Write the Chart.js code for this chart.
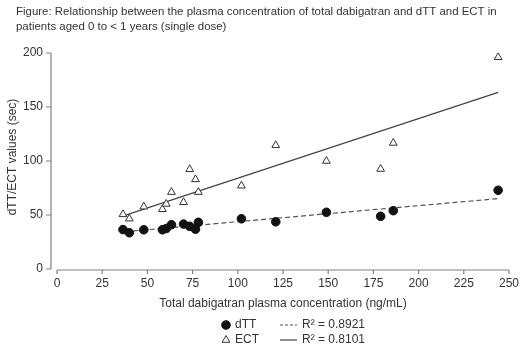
<!DOCTYPE html>
<html>
<head>
<meta charset="utf-8">
<script src="https://cdn.jsdelivr.net/npm/chart.js@4.4.1/dist/chart.umd.min.js"></script>
<style>
body { margin: 0; background: #fff; }
#wrap { width: 520px; height: 351px; }
</style>
</head>
<body>
<div id="wrap"><canvas id="scatter-chart" width="520" height="351"></canvas></div>
<script>
var titleLines = ['Figure: Relationship between the plasma concentration of total dabigatran and dTT and ECT in', 'patients aged 0 to < 1 years (single dose)'];
var concentration = [36.5, 40, 48, 58.3, 60.4, 63.3, 70, 73.4, 76.6, 78.2, 102, 121, 149, 179, 186, 244];
var dttValues = [36.5, 33.6, 36.3, 36.3, 37.5, 41, 41.6, 39.5, 36.9, 43.2, 46.5, 43.7, 52.5, 48.8, 54, 72.9];
var ectValues = [50.6, 46.6, 57.7, 55.3, 60.2, 71.2, 61.8, 92.3, 83, 71.2, 77.1, 114.5, 100, 92.6, 116.7, 196];
var fitConc = [38, 244];
var dttFit = [34.6, 65.2];
var ectFit = [49.9, 163.6];
var xTicks = [0, 25, 50, 75, 100, 125, 150, 175, 200, 225, 250];
var yTicks = [0, 50, 100, 150, 200];
var xTitle = 'Total dabigatran plasma concentration (ng/mL)';
var yTitle = 'dTT/ECT values (sec)';
var legendNames = ['dTT', 'ECT'];
var legendFits = ['R\u00b2 = 0.8921', 'R\u00b2 = 0.8101'];

var fontFamily = '"Liberation Sans", Arial, sans-serif';
var textColor = '#333';
var axisColor = '#808080';

function toPoints(xs, ys) {
    return xs.map((x, i) => ({ x: x, y: ys[i] }))
}

const prismAxes = {
    id: 'prismAxes',
    afterDraw(chart) {
        const ctx = chart.ctx;
        const xs = chart.scales.x, ys = chart.scales.y;
        const area = chart.chartArea;
        ctx.save();

        // title is squeezed to the width it has in the figure
        ctx.font = '12px ' + fontFamily;
        var titleSize = 12 * 481 / ctx.measureText(titleLines[0]).width;
        ctx.fillStyle = textColor;
        ctx.font = titleSize.toFixed(2) + 'px ' + fontFamily;
        ctx.textAlign = 'left';
        ctx.textBaseline = 'middle';
        ctx.fillText(titleLines[0], 16, 12);
        ctx.fillText(titleLines[1], 16, 27);

        ctx.strokeStyle = axisColor;
        ctx.lineWidth = 1.2;
        var yAxisX = area.left - 6;
        ctx.beginPath();
        ctx.moveTo(yAxisX, ys.getPixelForValue(yTicks[0]));
        ctx.lineTo(yAxisX, ys.getPixelForValue(yTicks[yTicks.length - 1]));
        yTicks.forEach(function (t) {
            var py = ys.getPixelForValue(t);
            ctx.moveTo(yAxisX - 5, py);
            ctx.lineTo(yAxisX, py);
        });
        var xAxisY = area.bottom + 1;
        ctx.moveTo(xs.getPixelForValue(xTicks[0]), xAxisY);
        ctx.lineTo(xs.getPixelForValue(xTicks[xTicks.length - 1]), xAxisY);
        xTicks.forEach(function (t) {
            var px = xs.getPixelForValue(t);
            ctx.moveTo(px, xAxisY);
            ctx.lineTo(px, xAxisY + 4);
        });
        ctx.stroke();

        ctx.font = '12px ' + fontFamily;
        ctx.textAlign = 'right';
        yTicks.forEach(function (t) {
            ctx.fillText(String(t), yAxisX - 8, ys.getPixelForValue(t));
        });
        ctx.textAlign = 'center';
        xTicks.forEach(function (t) {
            ctx.fillText(String(t), xs.getPixelForValue(t), xAxisY + 14);
        });
        ctx.fillText(xTitle, (area.left + area.right) / 2, xAxisY + 34);

        ctx.save();
        ctx.translate(13, (area.top + area.bottom) / 2 - 4);
        ctx.rotate(-Math.PI / 2);
        ctx.fillText(yTitle, 0, 0);
        ctx.restore();

        // legend
        var rows = [325, 340];
        var sets = chart.data.datasets;
        ctx.textAlign = 'left';
        rows.forEach(function (ry, i) {
            var pts = sets[i], fit = sets[i + 2];
            ctx.fillStyle = pts.backgroundColor;
            ctx.strokeStyle = pts.borderColor;
            ctx.lineWidth = pts.borderWidth;
            Chart.helpers.drawPoint(ctx, {
                pointStyle: pts.pointStyle,
                radius: pts.pointRadius,
                borderWidth: pts.borderWidth
            }, 226, ry);
            ctx.fillStyle = textColor;
            ctx.fillText(legendNames[i], 235, ry);
            ctx.strokeStyle = fit.borderColor;
            ctx.lineWidth = fit.borderWidth;
            ctx.setLineDash(fit.borderDash.length ? [3, 2] : []);
            ctx.beginPath();
            ctx.moveTo(280, ry);
            ctx.lineTo(297, ry);
            ctx.stroke();
            ctx.setLineDash([]);
            ctx.fillText(legendFits[i], 302, ry);
        });
        ctx.restore();
    }
};

function scatterChart() {
    const ctx = document.getElementById('scatter-chart').getContext('2d');

    const chart = new Chart(ctx, {
        type: 'scatter',
        data: {
            datasets: [
                {
                    label: 'dTT',
                    data: toPoints(concentration, dttValues),
                    pointStyle: 'circle',
                    pointRadius: 4.3,
                    borderWidth: 1,
                    backgroundColor: '#111',
                    borderColor: '#111',
                },
                {
                    label: 'ECT',
                    data: toPoints(concentration, ectValues),
                    pointStyle: 'triangle',
                    pointRadius: 4.5,
                    borderWidth: 1,
                    backgroundColor: '#fff',
                    borderColor: '#333',
                },
                {
                    label: legendFits[0],
                    data: toPoints(fitConc, dttFit),
                    showLine: true,
                    pointRadius: 0,
                    borderWidth: 1.2,
                    borderColor: '#555',
                    borderDash: [5, 3],
                },
                {
                    label: legendFits[1],
                    data: toPoints(fitConc, ectFit),
                    showLine: true,
                    pointRadius: 0,
                    borderWidth: 1.2,
                    borderColor: '#444',
                    borderDash: [],
                },
            ]
        },
        options: {
            responsive: false,
            animation: false,
            layout: { padding: { left: 57, right: 11, top: 53, bottom: 82 } },
            scales: {
                x: { display: false, min: 0, max: 250 },
                y: { display: false, min: 0, max: 200 }
            },
            plugins: {
                legend: { display: false },
                tooltip: { enabled: false }
            }
        },
        plugins: [prismAxes]
    })
}

scatterChart()
</script>
</body>
</html>
